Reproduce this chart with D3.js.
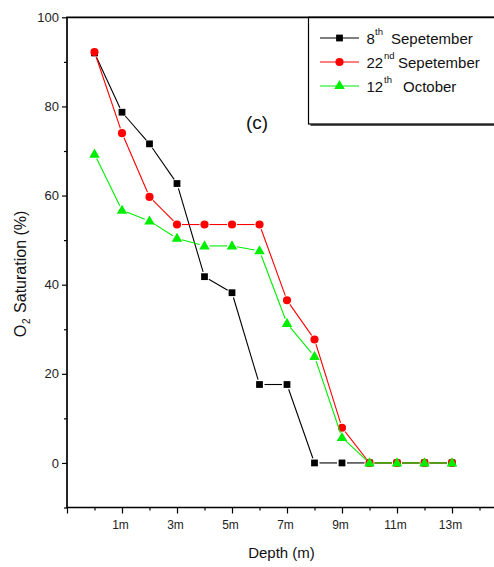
<!DOCTYPE html>
<html>
<head>
<meta charset="utf-8">
<script src="https://cdn.jsdelivr.net/npm/d3@7/dist/d3.min.js"></script>
<style>
  html, body { margin: 0; padding: 0; background: #fff; }
  svg { display: block; font-family: "Liberation Sans", Arial, sans-serif; }
</style>
</head>
<body>
<svg id="chart" width="494" height="567"></svg>
<script>
// Depth positions (m) and O2 saturation (%) for each sampling date
const depths = [0, 1, 2, 3, 4, 5, 6, 7, 8, 9, 10, 11, 12, 13];
const sept8  = [92, 78.7, 71.6, 62.7, 41.8, 38.2, 17.6, 17.6, 0, 0, 0, 0, 0, 0];
const sept22 = [92.2, 74, 59.7, 53.5, 53.5, 53.5, 53.5, 36.5, 27.7, 7.9, 0, 0, 0, 0];
const oct12  = [69.3, 56.7, 54.3, 50.4, 48.7, 48.7, 47.6, 31.3, 23.9, 5.7, 0, 0, 0, 0];

const xMajorTicks = [-1, 1, 3, 5, 7, 9, 11, 13];
const xMinorTicks = [0, 2, 4, 6, 8, 10, 12, 14];
const yMajorTicks = [0, 20, 40, 60, 80, 100];
const yMinorTicks = [-10, 10, 30, 50, 70, 90];

const seriesList = [
  { num: "8",  sup: "th", name: "Sepetember", values: sept8,  color: "#000000", symbol: "square" },
  { num: "22", sup: "nd", name: "Sepetember", values: sept22, color: "#ff0000", symbol: "circle" },
  { num: "12", sup: "th", name: "October",    values: oct12,  color: "#00ee00", symbol: "triangle" }
];

const svg = d3.select("#chart");
const x = d3.scaleLinear().domain([-1, 14.6]).range([67, 496]);
const y = d3.scaleLinear().domain([-10, 100]).range([507.5, 17.3]);

const plotLeft = x(-1), plotBottom = y(-10), plotTop = y(100), plotRight = 600;

// Legend panel (sits in the upper right, drawn under the frame)
const legendBox = { x0: 308.5, y0: plotTop, y1: 124 };
svg.append("rect")
  .attr("x", legendBox.x0 + 2).attr("y", legendBox.y0 + 2)
  .attr("width", plotRight).attr("height", legendBox.y1 - legendBox.y0)
  .attr("fill", "#555");
svg.append("rect")
  .attr("x", legendBox.x0).attr("y", legendBox.y0)
  .attr("width", plotRight).attr("height", legendBox.y1 - legendBox.y0)
  .attr("fill", "#fff").attr("stroke", "#000").attr("stroke-width", 1.2);

// Axes
const xAxisMajor = d3.axisBottom(x).tickValues(xMajorTicks).tickSize(6)
  .tickFormat(d => d < 0 ? "" : d + "m");
const xAxisMinor = d3.axisBottom(x).tickValues(xMinorTicks).tickSize(3).tickFormat("");
const yAxisMajor = d3.axisLeft(y).tickValues(yMajorTicks).tickSize(5).tickFormat(d3.format("d"));
const yAxisMinor = d3.axisLeft(y).tickValues(yMinorTicks).tickSize(3).tickFormat("");

function styleAxis(g, fontSize) {
  g.select(".domain").remove();
  g.selectAll(".tick line").attr("stroke", "#000").attr("stroke-width", 1.2);
  g.selectAll(".tick text").attr("fill", "#222").attr("font-size", fontSize)
    .attr("font-family", "'Liberation Sans', Arial, sans-serif");
}

svg.append("g").attr("transform", `translate(0,${plotBottom})`).call(xAxisMajor)
  .call(g => styleAxis(g, 12))
  .call(g => g.selectAll(".tick text").attr("dy", "0.71em").attr("y", 13).attr("dx", -2));
svg.append("g").attr("transform", `translate(0,${plotBottom})`).call(xAxisMinor).call(g => styleAxis(g, 12));
svg.append("g").attr("transform", `translate(${plotLeft},0)`).call(yAxisMajor)
  .call(g => styleAxis(g, 13))
  .call(g => g.selectAll(".tick text").attr("x", -8));
svg.append("g").attr("transform", `translate(${plotLeft},0)`).call(yAxisMinor).call(g => styleAxis(g, 13));

// Frame: left, bottom and top edges
svg.append("path")
  .attr("d", `M${plotRight},${plotTop}H${plotLeft}V${plotBottom}H${plotRight}`)
  .attr("fill", "none").attr("stroke", "#000").attr("stroke-width", 1.7);

// Symbol path generators
const symbolGen = {
  square:   d3.symbol(d3.symbolSquare, 46),
  circle:   d3.symbol(d3.symbolCircle, 52),
  triangle: d3.symbol(d3.symbolTriangle, 48)
};

// Line segments stop short of the markers
const gap = 5;
function drawSeries(g, s) {
  const pts = depths.map((d, i) => [x(d), y(s.values[i])]);
  const segs = [];
  for (let i = 0; i < pts.length - 1; i++) {
    const [x0, y0] = pts[i], [x1, y1] = pts[i + 1];
    const len = Math.hypot(x1 - x0, y1 - y0);
    if (len <= 2 * gap) continue;
    const ux = (x1 - x0) / len, uy = (y1 - y0) / len;
    segs.push([[x0 + ux * gap, y0 + uy * gap], [x1 - ux * gap, y1 - uy * gap]]);
  }
  g.selectAll("line.seg").data(segs).join("line")
    .attr("class", "seg")
    .attr("x1", d => d[0][0]).attr("y1", d => d[0][1])
    .attr("x2", d => d[1][0]).attr("y2", d => d[1][1])
    .attr("stroke", s.color).attr("stroke-width", 1.1);
  g.selectAll("path.mk").data(pts).join("path")
    .attr("class", "mk")
    .attr("d", symbolGen[s.symbol]())
    .attr("transform", d => `translate(${d[0]},${d[1] + (s.symbol === "triangle" ? 0.5 : 0)})`)
    .attr("fill", s.color);
}

const plot = svg.append("g");
seriesList.forEach(s => drawSeries(plot.append("g"), s));

// Legend entries
const legendRows = [38, 62, 86];
const legendTextX = [
  { num: 366.5, sup: 375, name: 391 },
  { num: 366.5, sup: 384, name: 398 },
  { num: 366.5, sup: 384, name: 403 }
];
seriesList.forEach((s, i) => {
  const ly = legendRows[i];
  const g = svg.append("g");
  g.append("line").attr("x1", 320).attr("x2", 359).attr("y1", ly).attr("y2", ly)
    .attr("stroke", s.color).attr("stroke-width", 1.1);
  g.append("path").attr("d", symbolGen[s.symbol]())
    .attr("transform", `translate(339.5,${ly})`).attr("fill", s.color);
  const pos = legendTextX[i];
  g.append("text").attr("x", pos.num).attr("y", ly + 5.5).attr("font-size", 15)
    .attr("fill", "#111").text(s.num);
  g.append("text").attr("x", pos.sup).attr("y", ly - 3).attr("font-size", 9.5)
    .attr("fill", "#111").text(s.sup);
  g.append("text").attr("x", pos.name).attr("y", ly + 5.5).attr("font-size", 15)
    .attr("fill", "#111").text(s.name);
});

// Panel label
svg.append("text").attr("x", 257).attr("y", 129).attr("text-anchor", "middle")
  .attr("font-size", 19).attr("fill", "#111").text("(c)");

// Axis titles
svg.append("text").attr("x", x(6.8)).attr("y", 558).attr("text-anchor", "middle")
  .attr("font-size", 15).attr("fill", "#111").text("Depth (m)");

const yTitle = svg.append("text")
  .attr("transform", `translate(26,${274}) rotate(-90)`)
  .attr("text-anchor", "middle").attr("font-size", 16).attr("fill", "#111");
yTitle.append("tspan").text("O");
yTitle.append("tspan").attr("font-size", 10).attr("dy", 4).attr("dx", 1).text("2");
yTitle.append("tspan").attr("dy", -4).attr("dx", 1).text(" Saturation (%)");
</script>
</body>
</html>
